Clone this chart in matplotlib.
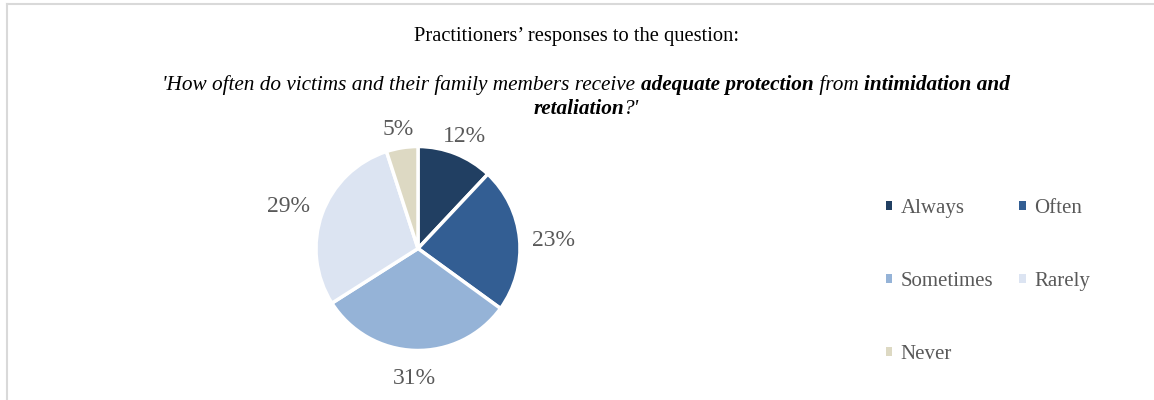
import numpy as np
import matplotlib.pyplot as plt
from matplotlib.lines import Line2D
from matplotlib.patches import Patch

plt.rcParams['font.family'] = ['Liberation Serif', 'DejaVu Serif']

categories = ['Always', 'Often', 'Sometimes', 'Rarely', 'Never']
shares = [12, 23, 31, 29, 5]
colors = ['#213F62', '#335E93', '#95B3D7', '#DCE4F2', '#DDD9C3']

title = 'Practitioners\u2019 responses to the question:'
question_lines = [
    [("'How often do victims and their family members receive ", 'normal'),
     ('adequate protection', 'bold'),
     (' from ', 'normal'),
     ('intimidation and', 'bold')],
    [('retaliation', 'bold'), ("?'", 'normal')],
]

W, H = 1154, 400
fig = plt.figure(figsize=(W / 100, H / 100), dpi=100)

# frame lines of the surrounding box
fig.add_artist(Line2D([7 / W, 1], [1 - 4 / H, 1 - 4 / H], color='#D9D9D9', lw=1.5))
fig.add_artist(Line2D([7 / W, 7 / W], [0, 1 - 4 / H], color='#D9D9D9', lw=1.5))

# pie
cx, cy, r = 418, 248.5, 102
ax = fig.add_axes([(cx - r) / W, (H - cy - r) / H, 2 * r / W, 2 * r / H])
wedges, _, autotexts = ax.pie(
    shares, colors=colors, startangle=90, counterclock=False,
    autopct='%d%%', pctdistance=1.27, radius=1,
    wedgeprops=dict(edgecolor='white', linewidth=2.5),
    textprops=dict(color='#595959', fontsize=17))
ax.set_xlim(-1, 1)
ax.set_ylim(-1, 1)
ax.set_aspect('equal')

renderer = fig.canvas.get_renderer()

# place labels Excel-style: nearest box edge a fixed gap from the rim
gap = 13
drop = 5  # px, box centre sits a bit above the glyphs
for w, t in zip(wedges, autotexts):
    mid = np.deg2rad((w.theta1 + w.theta2) / 2)
    bb = t.get_window_extent(renderer)
    hw, hh = bb.width / 2, bb.height / 2
    c, s = abs(np.cos(mid)), abs(np.sin(mid))
    reach = min(hw / c if c > 1e-6 else np.inf, hh / s if s > 1e-6 else np.inf)
    dist = (r + gap + reach) / r
    t.set_position((dist * np.cos(mid), dist * np.sin(mid) - drop / r))
    t.set_ha('center')
    t.set_va('center')

# titles
fig.text(577 / W, 1 - 37 / H, title, ha='center', va='center', fontsize=14.8, color='black')

center_x = 586
line_y = [85, 109]
for pieces, y in zip(question_lines, line_y):
    texts = [fig.text(0, 1 - y / H, s, style='italic', weight=wt, fontsize=15.3,
                      va='center', ha='left', color='black') for s, wt in pieces]
    widths = [t.get_window_extent(renderer).width for t in texts]
    x = center_x - sum(widths) / 2
    for t, wd in zip(texts, widths):
        t.set_x(x / W)
        x += wd

# legend, row-wise order
order = [0, 2, 4, 1, 3]
handles = [Patch(facecolor=colors[i], edgecolor='none') for i in order]
fig.legend(handles, [categories[i] for i in order],
           ncol=2, loc='upper left', bbox_to_anchor=(867 / W, 1 - 180 / H),
           frameon=False, fontsize=15, handlelength=0.32, handleheight=0.32,
           handletextpad=0.4, labelspacing=2.6, columnspacing=1.25,
           labelcolor='#595959')

fig.savefig('out.png', dpi=100)
